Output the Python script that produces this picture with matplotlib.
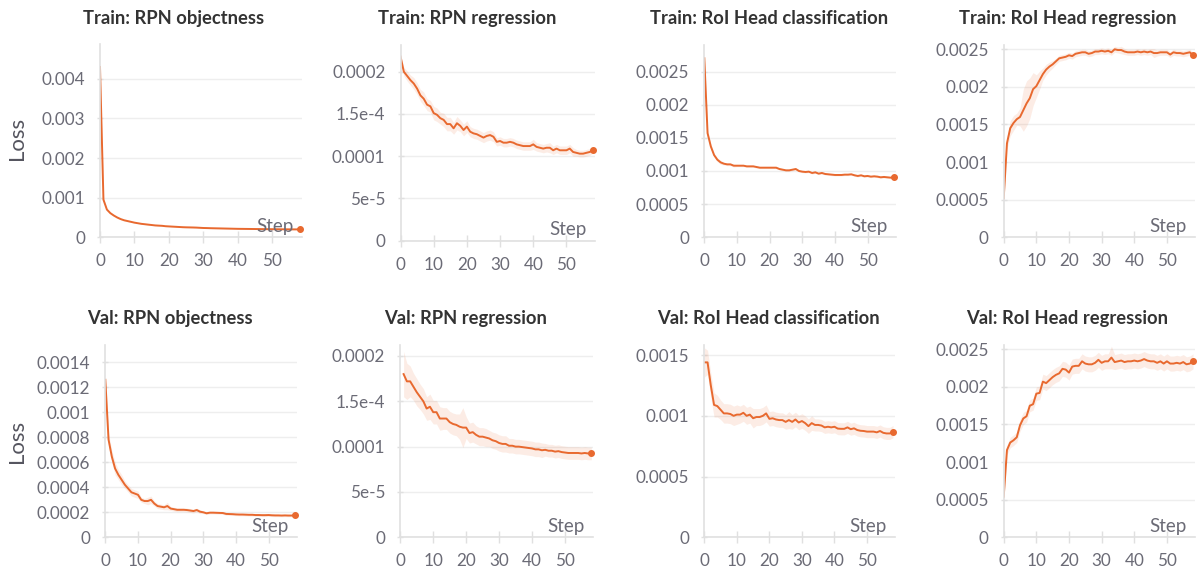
import numpy as np
import matplotlib
matplotlib.use("Agg")
import matplotlib.pyplot as plt

plt.rcParams['font.family'] = ['Lato', 'DejaVu Sans']

steps = list(range(0, 59))
steps_val_rpn_reg = list(range(1, 59))
x_ticks = [0, 10, 20, 30, 40, 50]

# Train: RPN objectness (x1e-3)
train_rpn_obj = [4.30, 0.95, 0.70, 0.61, 0.55, 0.50, 0.46, 0.43, 0.41, 0.39,
                 0.37, 0.355, 0.34, 0.33, 0.32, 0.31, 0.30, 0.295, 0.29, 0.28,
                 0.275, 0.27, 0.265, 0.26, 0.255, 0.252, 0.25, 0.248, 0.245, 0.24,
                 0.235, 0.233, 0.23, 0.228, 0.226, 0.224, 0.222, 0.22, 0.218, 0.216,
                 0.214, 0.213, 0.212, 0.211, 0.21, 0.209, 0.208, 0.207, 0.206, 0.205,
                 0.205, 0.204, 0.203, 0.202, 0.202, 0.201, 0.20, 0.20, 0.20]
train_rpn_obj_band = [0.15, 0.05, 0.03, 0.02, 0.02, 0.02, 0.015, 0.015, 0.015, 0.01,
                      0.01, 0.01, 0.01, 0.01, 0.01, 0.01, 0.01, 0.01, 0.01, 0.01,
                      0.01, 0.01, 0.01, 0.01, 0.01, 0.01, 0.01, 0.01, 0.01, 0.01,
                      0.01, 0.01, 0.01, 0.01, 0.01, 0.01, 0.01, 0.01, 0.01, 0.01,
                      0.01, 0.01, 0.01, 0.01, 0.01, 0.01, 0.01, 0.01, 0.01, 0.01,
                      0.01, 0.01, 0.01, 0.01, 0.01, 0.01, 0.01, 0.01, 0.01]

# Train: RPN regression (x1e-4)
train_rpn_reg = [2.18, 2.00, 1.95, 1.90, 1.86, 1.80, 1.72, 1.68, 1.61, 1.59,
                 1.51, 1.49, 1.45, 1.43, 1.38, 1.38, 1.33, 1.39, 1.36, 1.31,
                 1.35, 1.29, 1.27, 1.26, 1.24, 1.22, 1.24, 1.25, 1.23, 1.17,
                 1.18, 1.16, 1.16, 1.17, 1.16, 1.14, 1.13, 1.12, 1.12, 1.12,
                 1.14, 1.11, 1.10, 1.09, 1.10, 1.10, 1.07, 1.09, 1.07, 1.07,
                 1.07, 1.09, 1.05, 1.04, 1.03, 1.03, 1.04, 1.05, 1.07]
train_rpn_reg_band = [0.03, 0.05, 0.06, 0.06, 0.07, 0.07, 0.07, 0.08, 0.07, 0.07,
                      0.08, 0.08, 0.07, 0.08, 0.08, 0.08, 0.07, 0.08, 0.07, 0.07,
                      0.07, 0.06, 0.06, 0.06, 0.06, 0.06, 0.06, 0.06, 0.06, 0.05,
                      0.05, 0.05, 0.05, 0.05, 0.05, 0.05, 0.05, 0.05, 0.05, 0.05,
                      0.06, 0.05, 0.05, 0.05, 0.05, 0.06, 0.05, 0.05, 0.05, 0.05,
                      0.05, 0.05, 0.05, 0.04, 0.04, 0.04, 0.04, 0.04, 0.03]

# Train: RoI Head classification (x1e-3)
train_roi_cls = [2.70, 1.57, 1.37, 1.24, 1.17, 1.13, 1.11, 1.10, 1.10, 1.08,
                 1.08, 1.08, 1.08, 1.07, 1.07, 1.07, 1.06, 1.05, 1.05, 1.05,
                 1.05, 1.05, 1.05, 1.03, 1.02, 1.01, 1.01, 1.02, 1.03, 1.00,
                 0.99, 0.985, 0.99, 0.97, 0.98, 0.96, 0.97, 0.955, 0.95, 0.945,
                 0.94, 0.94, 0.94, 0.945, 0.945, 0.95, 0.935, 0.925, 0.935, 0.92,
                 0.925, 0.915, 0.92, 0.915, 0.905, 0.91, 0.905, 0.90, 0.905]
train_roi_cls_band = [0.10, 0.05, 0.04, 0.03, 0.03, 0.03, 0.02, 0.02, 0.02, 0.02,
                      0.015, 0.015, 0.015, 0.015, 0.015, 0.015, 0.015, 0.015, 0.015, 0.015,
                      0.015, 0.015, 0.015, 0.015, 0.015, 0.015, 0.015, 0.015, 0.015, 0.015,
                      0.015, 0.015, 0.015, 0.015, 0.015, 0.015, 0.015, 0.015, 0.015, 0.015,
                      0.015, 0.015, 0.015, 0.015, 0.015, 0.015, 0.015, 0.015, 0.015, 0.015,
                      0.015, 0.015, 0.015, 0.015, 0.015, 0.015, 0.015, 0.015, 0.015]

# Train: RoI Head regression (x1e-3)
train_roi_reg = [0.52, 1.25, 1.45, 1.52, 1.57, 1.60, 1.69, 1.78, 1.85, 1.97,
                 2.01, 2.09, 2.17, 2.23, 2.27, 2.30, 2.34, 2.38, 2.39, 2.40,
                 2.42, 2.41, 2.44, 2.45, 2.46, 2.46, 2.44, 2.45, 2.47, 2.47,
                 2.48, 2.47, 2.48, 2.46, 2.50, 2.49, 2.49, 2.47, 2.46, 2.46,
                 2.46, 2.47, 2.46, 2.47, 2.46, 2.47, 2.45, 2.45, 2.46, 2.46,
                 2.46, 2.43, 2.46, 2.45, 2.45, 2.44, 2.45, 2.46, 2.42]
train_roi_reg_band = [0.05, 0.08, 0.10, 0.10, 0.08, 0.12, 0.28, 0.30, 0.27, 0.22,
                      0.15, 0.12, 0.08, 0.07, 0.06, 0.05, 0.04, 0.04, 0.04, 0.04,
                      0.04, 0.04, 0.04, 0.04, 0.04, 0.04, 0.04, 0.04, 0.04, 0.04,
                      0.04, 0.04, 0.04, 0.04, 0.04, 0.04, 0.05, 0.04, 0.04, 0.04,
                      0.04, 0.04, 0.04, 0.04, 0.04, 0.04, 0.06, 0.04, 0.04, 0.04,
                      0.04, 0.04, 0.04, 0.04, 0.04, 0.04, 0.04, 0.04, 0.04]

# Val: RPN objectness (x1e-3)
val_rpn_obj = [1.26, 0.78, 0.645, 0.55, 0.50, 0.46, 0.42, 0.39, 0.36, 0.35,
               0.34, 0.30, 0.29, 0.29, 0.30, 0.27, 0.25, 0.245, 0.24, 0.25,
               0.23, 0.225, 0.22, 0.22, 0.22, 0.218, 0.214, 0.21, 0.218, 0.205,
               0.20, 0.192, 0.197, 0.197, 0.196, 0.195, 0.194, 0.187, 0.186, 0.185,
               0.183, 0.182, 0.182, 0.181, 0.18, 0.18, 0.178, 0.178, 0.177, 0.177,
               0.178, 0.176, 0.175, 0.175, 0.174, 0.175, 0.174, 0.174, 0.175]
val_rpn_obj_band = [0.05, 0.05, 0.05, 0.05, 0.04, 0.04, 0.03, 0.03, 0.03, 0.03,
                    0.03, 0.02, 0.02, 0.03, 0.03, 0.02, 0.02, 0.02, 0.02, 0.03,
                    0.015, 0.015, 0.015, 0.015, 0.015, 0.015, 0.015, 0.015, 0.015, 0.015,
                    0.01, 0.01, 0.01, 0.01, 0.01, 0.01, 0.01, 0.01, 0.01, 0.01,
                    0.01, 0.01, 0.01, 0.01, 0.01, 0.01, 0.01, 0.01, 0.01, 0.01,
                    0.01, 0.01, 0.01, 0.01, 0.01, 0.01, 0.01, 0.01, 0.01]

# Val: RPN regression (x1e-4), starts at step 1
val_rpn_reg = [1.80, 1.72, 1.72, 1.66, 1.60, 1.55, 1.50, 1.42, 1.44, 1.38,
               1.38, 1.31, 1.31, 1.31, 1.27, 1.25, 1.24, 1.22, 1.21, 1.21,
               1.15, 1.16, 1.13, 1.11, 1.11, 1.10, 1.09, 1.07, 1.06, 1.04,
               1.03, 1.03, 1.01, 1.01, 1.00, 1.00, 0.995, 0.99, 0.985, 0.98,
               0.97, 0.97, 0.96, 0.965, 0.955, 0.955, 0.945, 0.95, 0.94, 0.935,
               0.93, 0.93, 0.93, 0.93, 0.925, 0.93, 0.925, 0.925]
val_rpn_reg_band = [0.25, 0.20, 0.17, 0.15, 0.15, 0.14, 0.14, 0.13, 0.14, 0.13,
                    0.13, 0.13, 0.12, 0.12, 0.12, 0.12, 0.12, 0.14, 0.22, 0.12,
                    0.11, 0.11, 0.10, 0.10, 0.10, 0.10, 0.09, 0.09, 0.09, 0.09,
                    0.09, 0.09, 0.08, 0.08, 0.08, 0.08, 0.08, 0.08, 0.08, 0.08,
                    0.08, 0.08, 0.08, 0.07, 0.07, 0.07, 0.07, 0.07, 0.07, 0.07,
                    0.07, 0.07, 0.07, 0.07, 0.07, 0.07, 0.07, 0.07]

# Val: RoI Head classification (x1e-3)
val_roi_cls = [1.44, 1.44, 1.25, 1.09, 1.08, 1.05, 1.02, 1.02, 1.015, 1.00,
               1.01, 1.01, 1.025, 1.00, 1.01, 0.98, 0.99, 0.99, 1.00, 1.02,
               0.975, 0.98, 0.97, 0.965, 0.965, 0.95, 0.965, 0.95, 0.97, 0.945,
               0.957, 0.94, 0.915, 0.94, 0.925, 0.925, 0.92, 0.905, 0.91, 0.905,
               0.91, 0.895, 0.893, 0.893, 0.905, 0.89, 0.897, 0.883, 0.877, 0.875,
               0.87, 0.87, 0.87, 0.864, 0.875, 0.86, 0.855, 0.855, 0.87]
val_roi_cls_band = [0.12, 0.10, 0.10, 0.10, 0.09, 0.08, 0.08, 0.08, 0.08, 0.08,
                    0.08, 0.07, 0.07, 0.07, 0.07, 0.08, 0.07, 0.07, 0.07, 0.07,
                    0.06, 0.06, 0.06, 0.06, 0.06, 0.06, 0.07, 0.06, 0.06, 0.06,
                    0.06, 0.06, 0.06, 0.06, 0.05, 0.05, 0.05, 0.05, 0.05, 0.05,
                    0.05, 0.05, 0.05, 0.05, 0.05, 0.05, 0.05, 0.05, 0.05, 0.05,
                    0.05, 0.05, 0.05, 0.05, 0.05, 0.05, 0.05, 0.05, 0.05]

# Val: RoI Head regression (x1e-3)
val_roi_reg = [0.54, 1.16, 1.26, 1.29, 1.33, 1.49, 1.58, 1.61, 1.75, 1.77,
               1.91, 1.92, 2.07, 2.05, 2.09, 2.13, 2.16, 2.18, 2.24, 2.23,
               2.19, 2.27, 2.28, 2.28, 2.34, 2.31, 2.30, 2.30, 2.32, 2.36,
               2.32, 2.34, 2.34, 2.39, 2.33, 2.34, 2.35, 2.33, 2.34, 2.34,
               2.35, 2.34, 2.35, 2.37, 2.35, 2.34, 2.34, 2.32, 2.34, 2.31,
               2.34, 2.31, 2.31, 2.32, 2.31, 2.33, 2.30, 2.31, 2.34]
val_roi_reg_band = [0.05, 0.06, 0.07, 0.07, 0.07, 0.08, 0.08, 0.08, 0.08, 0.08,
                    0.09, 0.09, 0.10, 0.10, 0.10, 0.10, 0.10, 0.10, 0.10, 0.10,
                    0.10, 0.10, 0.10, 0.10, 0.10, 0.10, 0.10, 0.10, 0.10, 0.10,
                    0.10, 0.10, 0.10, 0.15, 0.10, 0.10, 0.10, 0.10, 0.10, 0.10,
                    0.10, 0.10, 0.10, 0.10, 0.10, 0.10, 0.10, 0.10, 0.10, 0.10,
                    0.10, 0.10, 0.10, 0.10, 0.10, 0.10, 0.10, 0.10, 0.10]

# y tick values / labels
yt_train_obj = [0, 0.001, 0.002, 0.003, 0.004]
yl_train_obj = ["0", "0.001", "0.002", "0.003", "0.004"]
yt_rpn_reg = [0, 5e-5, 1e-4, 1.5e-4, 2e-4]
yl_rpn_reg = ["0", "5e-5", "0.0001", "1.5e-4", "0.0002"]
yt_roi = [0, 0.0005, 0.001, 0.0015, 0.002, 0.0025]
yl_roi = ["0", "0.0005", "0.001", "0.0015", "0.002", "0.0025"]
yt_val_obj = [0, 0.0002, 0.0004, 0.0006, 0.0008, 0.001, 0.0012, 0.0014]
yl_val_obj = ["0", "0.0002", "0.0004", "0.0006", "0.0008", "0.001", "0.0012", "0.0014"]
yt_val_cls = [0, 0.0005, 0.001, 0.0015]
yl_val_cls = ["0", "0.0005", "0.001", "0.0015"]

# ---- styling ----
W, H = 1201, 572
ORANGE = '#e8692f'
TICK_C = '#6b6b76'
AXIS_C = '#e0e0e0'
GRID_C = '#eeeeee'

# (title, x, y, band, scale, yticks, yticklabels, ylim top, box px: left, top, right, bottom, title centre px)
panels = [
    ("Train: RPN objectness", steps, train_rpn_obj, train_rpn_obj_band, 1e-3,
     yt_train_obj, yl_train_obj, 4.88e-3, (100, 44, 302, 237.3), (174, 18.3)),
    ("Train: RPN regression", steps, train_rpn_reg, train_rpn_reg_band, 1e-4,
     yt_rpn_reg, yl_rpn_reg, 2.316e-4, (400.5, 45, 595, 240.7), (466.7, 18.3)),
    ("Train: RoI Head classification", steps, train_roi_cls, train_roi_cls_band, 1e-3,
     yt_roi, yl_roi, 2.90e-3, (704.3, 45, 895.7, 237.3), (768.7, 18.3)),
    ("Train: RoI Head regression", steps, train_roi_reg, train_roi_reg_band, 1e-3,
     yt_roi, yl_roi, 2.557e-3, (1003.7, 45, 1195, 237.3), (1068, 18.3)),
    ("Val: RPN objectness", steps, val_rpn_obj, val_rpn_obj_band, 1e-3,
     yt_val_obj, yl_val_obj, 1.538e-3, (105.3, 345, 296.7, 537.3), (170, 318.3)),
    ("Val: RPN regression", steps_val_rpn_reg, val_rpn_reg, val_rpn_reg_band, 1e-4,
     yt_rpn_reg, yl_rpn_reg, 2.121e-4, (400.3, 345, 593.3, 537.3), (466, 318.3)),
    ("Val: RoI Head classification", steps, val_roi_cls, val_roi_cls_band, 1e-3,
     yt_val_cls, yl_val_cls, 1.583e-3, (704.3, 345, 895, 537.3), (768, 318.3)),
    ("Val: RoI Head regression", steps, val_roi_reg, val_roi_reg_band, 1e-3,
     yt_roi, yl_roi, 2.557e-3, (1003.7, 345, 1195, 537.3), (1067.5, 318.3)),
]

fig = plt.figure(figsize=(W / 100, H / 100), dpi=100)
fig.patch.set_facecolor('white')

for title, xs, ys, band, scale, yt, yl, ytop, box, tpos in panels:
    l, t, r, b = box
    ax = fig.add_axes([l / W, 1 - b / H, (r - l) / W, (b - t) / H])
    x = np.array(xs)
    y = np.array(ys) * scale
    d = np.array(band) * scale
    ax.fill_between(x, y - d, y + d, color=ORANGE, alpha=0.12, lw=0)
    ax.plot(x, y, color=ORANGE, lw=1.4, solid_joinstyle='round')
    ax.plot(x[-1], y[-1], 'o', ms=4, color=ORANGE, clip_on=False, zorder=5)

    ax.set_xlim(0, 58.6)
    ax.set_ylim(0, ytop)
    ax.set_xticks(x_ticks)
    ax.set_yticks(yt, yl)
    ax.grid(axis='y', color=GRID_C, lw=1)
    ax.set_axisbelow(True)
    for s in ('top', 'right'):
        ax.spines[s].set_visible(False)
    for s in ('left', 'bottom'):
        ax.spines[s].set_color(AXIS_C)
        ax.spines[s].set_linewidth(1.2)
    ax.tick_params(axis='x', direction='inout', length=8, width=1, color=AXIS_C,
                   labelsize=12.3, labelcolor=TICK_C, pad=7.5)
    ax.tick_params(axis='y', direction='inout', length=5, width=1, color=AXIS_C,
                   labelsize=12.3, labelcolor=TICK_C, pad=8.3)

    ax.annotate('Step', xy=(1, 0), xycoords='axes fraction', xytext=(-8.5, 5.6),
                textcoords='offset pixels', ha='right', va='baseline',
                fontsize=13.5, color=TICK_C)

    fig.text(tpos[0] / W, 1 - tpos[1] / H, title, ha='center', va='center',
             fontsize=13.2, fontweight='bold', color='#333333')

# shared y labels
fig.text(16.7 / W, 1 - 138 / H, 'Loss', rotation=90, ha='center', va='center',
         fontsize=16, color='#55555f')
fig.text(16.7 / W, 1 - 441.7 / H, 'Loss', rotation=90, ha='center', va='center',
         fontsize=16, color='#55555f')

fig.savefig('out.png', dpi=100, facecolor='white')
